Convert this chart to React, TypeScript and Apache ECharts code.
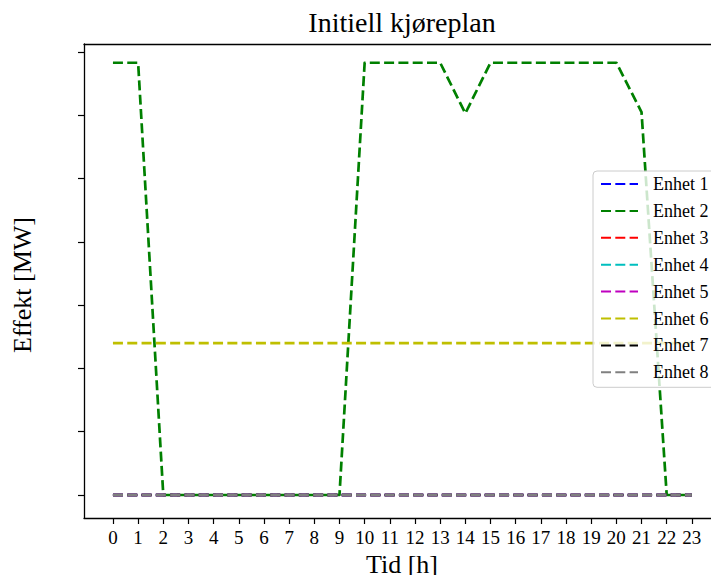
import React, { useEffect, useRef } from "react";
import * as echarts from "echarts";

const hours = [0, 1, 2, 3, 4, 5, 6, 7, 8, 9, 10, 11, 12, 13, 14, 15, 16, 17, 18, 19, 20, 21, 22, 23];
const yTicks = [0, 1, 2, 3, 4, 5, 6, 7];
const unitNames = ["Enhet 1", "Enhet 2", "Enhet 3", "Enhet 4", "Enhet 5", "Enhet 6", "Enhet 7", "Enhet 8"];
const unitColors = ["#0000ff", "#008000", "#ff0000", "#00bfbf", "#bf00bf", "#bfbf00", "#000000", "#808080"];

const enhet1 = [0, 0, 0, 0, 0, 0, 0, 0, 0, 0, 0, 0, 0, 0, 0, 0, 0, 0, 0, 0, 0, 0, 0, 0];
const enhet2 = [6.83, 6.83, 0, 0, 0, 0, 0, 0, 0, 0, 6.83, 6.83, 6.83, 6.83, 6.03, 6.83, 6.83, 6.83, 6.83, 6.83, 6.83, 6.05, 0, 0];
const enhet3 = [0, 0, 0, 0, 0, 0, 0, 0, 0, 0, 0, 0, 0, 0, 0, 0, 0, 0, 0, 0, 0, 0, 0, 0];
const enhet4 = [0, 0, 0, 0, 0, 0, 0, 0, 0, 0, 0, 0, 0, 0, 0, 0, 0, 0, 0, 0, 0, 0, 0, 0];
const enhet5 = [0, 0, 0, 0, 0, 0, 0, 0, 0, 0, 0, 0, 0, 0, 0, 0, 0, 0, 0, 0, 0, 0, 0, 0];
const enhet6 = [2.4, 2.4, 2.4, 2.4, 2.4, 2.4, 2.4, 2.4, 2.4, 2.4, 2.4, 2.4, 2.4, 2.4, 2.4, 2.4, 2.4, 2.4, 2.4, 2.4, 2.4, 2.4, 2.4, 2.4];
const enhet7 = [0, 0, 0, 0, 0, 0, 0, 0, 0, 0, 0, 0, 0, 0, 0, 0, 0, 0, 0, 0, 0, 0, 0, 0];
const enhet8 = [0, 0, 0, 0, 0, 0, 0, 0, 0, 0, 0, 0, 0, 0, 0, 0, 0, 0, 0, 0, 0, 0, 0, 0];
const unitValues = [enhet1, enhet2, enhet3, enhet4, enhet5, enhet6, enhet7, enhet8];

const FONT = "'Liberation Serif', 'Times New Roman', serif";

export default function App() {
  const ref = useRef<HTMLDivElement>(null);
  useEffect(() => {
    if (!ref.current) return;
    const chart = echarts.init(ref.current, undefined, { renderer: "svg" });
    const axisLine = { show: true, onZero: false, lineStyle: { color: "#000", width: 1.3 } };
    chart.setOption({
      animation: false,
      backgroundColor: "#fff",
      grid: { left: 84, right: 0, top: 44, bottom: 57, containLabel: false },
      xAxis: [
        {
          type: "value",
          min: -1.15,
          max: 23.76,
          axisLine,
          splitLine: { show: false },
          axisTick: { show: true, inside: false, length: 6, lineStyle: { color: "#000", width: 1.2 }, customValues: hours },
          axisLabel: { show: true, margin: 10, color: "#000", fontSize: 19, fontFamily: FONT, customValues: hours, formatter: (v: number) => String(v) },
        },
        {
          type: "value",
          position: "top",
          min: -1.15,
          max: 23.76,
          axisLine,
          splitLine: { show: false },
          axisTick: { show: false },
          axisLabel: { show: false },
        },
      ],
      yAxis: {
        type: "value",
        min: -0.3635,
        max: 7.126,
        axisLine,
        splitLine: { show: false },
        axisTick: { show: true, inside: false, length: 6, lineStyle: { color: "#000", width: 1.2 }, customValues: yTicks },
        axisLabel: { show: false },
      },
      legend: {
        orient: "vertical",
        left: 593,
        top: 171,
        padding: [4, 20, 6, 7],
        itemWidth: 37,
        itemHeight: 18,
        itemGap: 8.9,
        backgroundColor: "rgba(255,255,255,0.8)",
        borderColor: "#cccccc",
        borderWidth: 1,
        borderRadius: 4,
        itemStyle: { opacity: 0 },
        textStyle: { fontSize: 18, lineHeight: 18, fontFamily: FONT, color: "#000", padding: [0, 0, 0, 10] },
        data: unitNames,
      },
      series: unitNames.map((name, i) => ({
        name,
        type: "line",
        xAxisIndex: 0,
        symbol: "none",
        showSymbol: false,
        data: hours.map((h, j) => [h, unitValues[i][j]]),
        itemStyle: { color: unitColors[i] },
        lineStyle: { color: unitColors[i], width: 2.7, type: [10, 4.3], cap: "butt", join: "round" },
        emphasis: { disabled: true },
      })),
      graphic: [
        {
          type: "text",
          x: 402,
          y: 22,
          style: { text: "Initiell kjøreplan", fontSize: 28, fontFamily: FONT, fill: "#000", textAlign: "center", textVerticalAlign: "middle" },
        },
        {
          type: "text",
          x: 402,
          y: 564,
          style: { text: "Tid [h]", fontSize: 26, fontFamily: FONT, fill: "#000", textAlign: "center", textVerticalAlign: "middle" },
        },
        {
          type: "text",
          x: 22,
          y: 285,
          rotation: Math.PI / 2,
          style: { text: "Effekt [MW]", fontSize: 26, fontFamily: FONT, fill: "#000", textAlign: "center", textVerticalAlign: "middle" },
        },
      ],
    });
    return () => chart.dispose();
  }, []);
  return <div ref={ref} style={{ position: "fixed", left: 0, top: 0, width: 711, height: 575 }} />;
}
